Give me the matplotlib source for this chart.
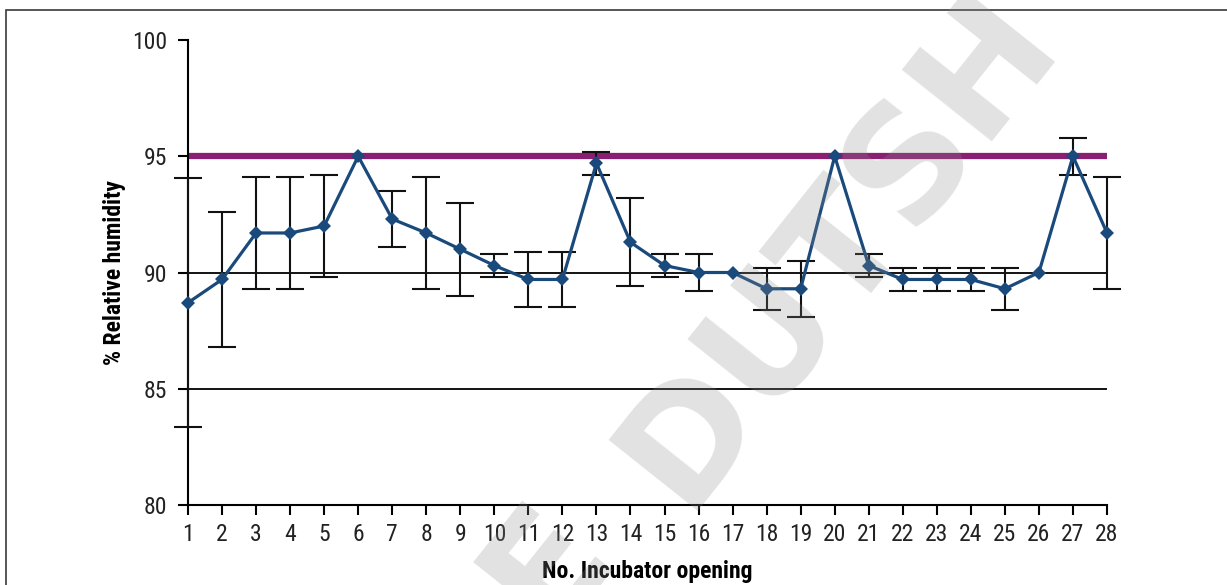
import matplotlib
matplotlib.use('Agg')
import matplotlib.pyplot as plt
from matplotlib.patches import Rectangle

plt.rcParams['font.family'] = ['Roboto Condensed', 'DejaVu Sans']
plt.rcParams['font.stretch'] = 'condensed'

# opening number, mean humidity and error (+/-)
openings = list(range(1, 29))
humidity = [88.7, 89.7, 91.7, 91.7, 92.0, 95.0, 92.3, 91.7, 91.0, 90.3,
            89.7, 89.7, 94.7, 91.3, 90.3, 90.0, 90.0, 89.3, 89.3, 95.0,
            90.3, 89.7, 89.7, 89.7, 89.3, 90.0, 95.0, 91.7]
error = [5.35, 2.9, 2.4, 2.4, 2.2, 0.0, 1.2, 2.4, 2.0, 0.5,
         1.2, 1.2, 0.5, 1.9, 0.5, 0.8, 0.0, 0.9, 1.2, 0.0,
         0.5, 0.5, 0.5, 0.5, 0.9, 0.0, 0.8, 2.4]
limit = 95
grid_levels = [85, 90, 95]
yticks = [80, 85, 90, 95, 100]

fig = plt.figure(figsize=(12.27, 5.85), dpi=100)
ax = fig.add_axes([188/1227, 1-505/585, (1107-188)/1227, (505-40)/585])

# frame round the figure (only left and top edges are in view)
fig.patches.append(Rectangle((6/1227, -0.5), 2, 1.5 - 10/585, transform=fig.transFigure,
                             fill=False, edgecolor='#3a3a3a', linewidth=1.2))

ax.hlines(grid_levels, 1, 28, colors='black', linewidth=1.3, zorder=1)
ax.hlines([limit], 1, 28, colors='#8a1f72', linewidth=4.5, zorder=2,
          capstyle='projecting')

# only the points that have an error bar
ex = [o for o, e in zip(openings, error) if e > 0]
ey = [h for h, e in zip(humidity, error) if e > 0]
ee = [e for e in error if e > 0]
ax.errorbar(ex, ey, yerr=ee, fmt='none', ecolor='#111111',
            elinewidth=1.5, capsize=10, capthick=1.5, zorder=3, clip_on=False)
ax.plot(openings, humidity, color='#1a4a7c', linewidth=2.3, marker='D',
        markersize=7.4, markeredgewidth=0, zorder=4, clip_on=False)

ax.set_xlim(1, 28)
ax.set_ylim(80, 100)
ax.set_xticks(openings)
ax.set_yticks(yticks)
for s in ['top', 'right']:
    ax.spines[s].set_visible(False)
for s in ['left', 'bottom']:
    ax.spines[s].set_linewidth(1.5)
ax.tick_params(axis='both', direction='out', length=7, width=1.5,
               labelsize=17, colors='black', pad=6)
ax.tick_params(axis='y', pad=8)
for lab in ax.get_xticklabels() + ax.get_yticklabels():
    lab.set_color('#222222')

ax.set_xlabel('No. Incubator opening', fontsize=17, fontweight='bold', labelpad=10)
ax.set_ylabel('% Relative humidity', fontsize=17, fontweight='bold', labelpad=4)

# watermark, partly off the picture as in the original
wm = dict(fontsize=112, fontweight='bold', color='#8a8a8a', alpha=0.25,
          rotation=51.5, ha='center', va='center', rotation_mode='anchor',
          family='DejaVu Sans', stretch='normal', zorder=10)
fig.text(548/1227, 1-565/585, 'E', **wm)
fig.text(838/1227, 1-248/585, 'DUTSH', **wm)

fig.savefig('out.png', dpi=100)
